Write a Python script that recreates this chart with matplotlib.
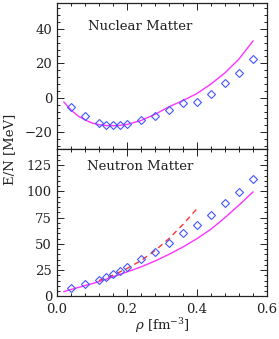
import matplotlib
matplotlib.use("Agg")
import matplotlib.pyplot as plt
from matplotlib.ticker import MultipleLocator

plt.rcParams['font.family'] = 'DejaVu Serif'
plt.rcParams['mathtext.fontset'] = 'dejavuserif'

# nuclear matter
rho_pts = [0.04, 0.08, 0.12, 0.14, 0.16, 0.18, 0.20, 0.24, 0.28, 0.32,
           0.36, 0.40, 0.44, 0.48, 0.52, 0.56]
nuc_pts = [-5.2, -10.6, -14.7, -15.8, -16.0, -16.0, -15.0, -13.0, -10.4, -7.1,
           -3.3, -2.5, 2.3, 8.5, 14.5, 22.8]
rho_curve = [0.02, 0.04, 0.06, 0.08, 0.10, 0.12, 0.14, 0.16, 0.18, 0.20,
             0.24, 0.28, 0.32, 0.36, 0.40, 0.44, 0.48, 0.52, 0.56]
nuc_curve = [-2.5, -7.0, -10.5, -12.8, -14.6, -15.6, -16.1, -16.2, -16.0, -15.5,
             -13.2, -9.6, -5.2, -1.6, 2.5, 8.0, 14.5, 22.5, 33.0]

# neutron matter
neu_pts = [7.6, 11.4, 15.8, 18.0, 21.2, 24.4, 27.5, 35.2, 42.7, 51.0,
           60.2, 68.0, 78.0, 88.5, 99.6, 112.0]
neu_curve = [4.4, 6.5, 8.3, 10.2, 12.0, 14.0, 16.2, 18.6, 20.9, 23.2,
             28.0, 33.6, 40.0, 47.0, 55.0, 64.0, 75.0, 87.0, 99.5]
rho_dash = [0.12, 0.16, 0.20, 0.24, 0.28, 0.32, 0.36, 0.40]
neu_dash = [15.0, 20.0, 26.5, 34.0, 43.5, 55.0, 68.5, 83.5]

fig = plt.figure(figsize=(2.79, 3.39), dpi=100)
ax1 = fig.add_axes([0.204, 0.559, 0.753, 0.432])
ax2 = fig.add_axes([0.204, 0.126, 0.753, 0.433], sharex=ax1)

mag = '#ff33ff'
blue = '#4455ff'

ax1.plot(rho_curve, nuc_curve, color=mag, lw=1.0)
ax1.plot(rho_pts, nuc_pts, ls='none', marker='D', ms=3.6, mfc='none', mec=blue, mew=0.8)
ax1.set_ylim(-30, 55)
ax1.yaxis.set_major_locator(MultipleLocator(20))
ax1.yaxis.set_minor_locator(MultipleLocator(4))
ax1.text(0.237, 41.5, 'Nuclear Matter', ha='center', va='center', fontsize=9.5,
         color='#222222')

ax2.plot(rho_curve, neu_curve, color=mag, lw=1.0)
ax2.plot(rho_dash, neu_dash, color='#ff3333', lw=1.0, ls=(0, (4, 3)))
ax2.plot(rho_pts, neu_pts, ls='none', marker='D', ms=3.6, mfc='none', mec=blue, mew=0.8)
ax2.set_ylim(0, 140)
ax2.yaxis.set_major_locator(MultipleLocator(25))
ax2.yaxis.set_minor_locator(MultipleLocator(5))
ax2.text(0.237, 124, 'Neutron Matter', ha='center', va='center', fontsize=9.5,
         color='#222222')

ax2.set_xlim(0, 0.6)
ax2.xaxis.set_major_locator(MultipleLocator(0.2))
ax2.xaxis.set_minor_locator(MultipleLocator(0.04))
ax2.xaxis.set_major_formatter(plt.FormatStrFormatter('%.1f'))
ax2.set_xlabel(r'$\rho$ [fm$^{-3}$]', fontsize=9.5, labelpad=0, color='#222222')

for ax in (ax1, ax2):
    ax.tick_params(which='both', direction='in', top=True, right=True,
                   labelsize=9.5, colors='#222222', width=0.7)
    ax.tick_params(which='major', length=5)
    ax.tick_params(which='minor', length=2.5)
    for s in ax.spines.values():
        s.set_linewidth(0.9)
        s.set_color('#222222')
ax1.tick_params(labelbottom=False)
ax2.tick_params(axis='x', pad=5)

fig.text(0.035, 0.559, 'E/N [MeV]', rotation=90, ha='center', va='center',
         fontsize=9.5, color='#222222')

fig.savefig('out.png', dpi=100)
